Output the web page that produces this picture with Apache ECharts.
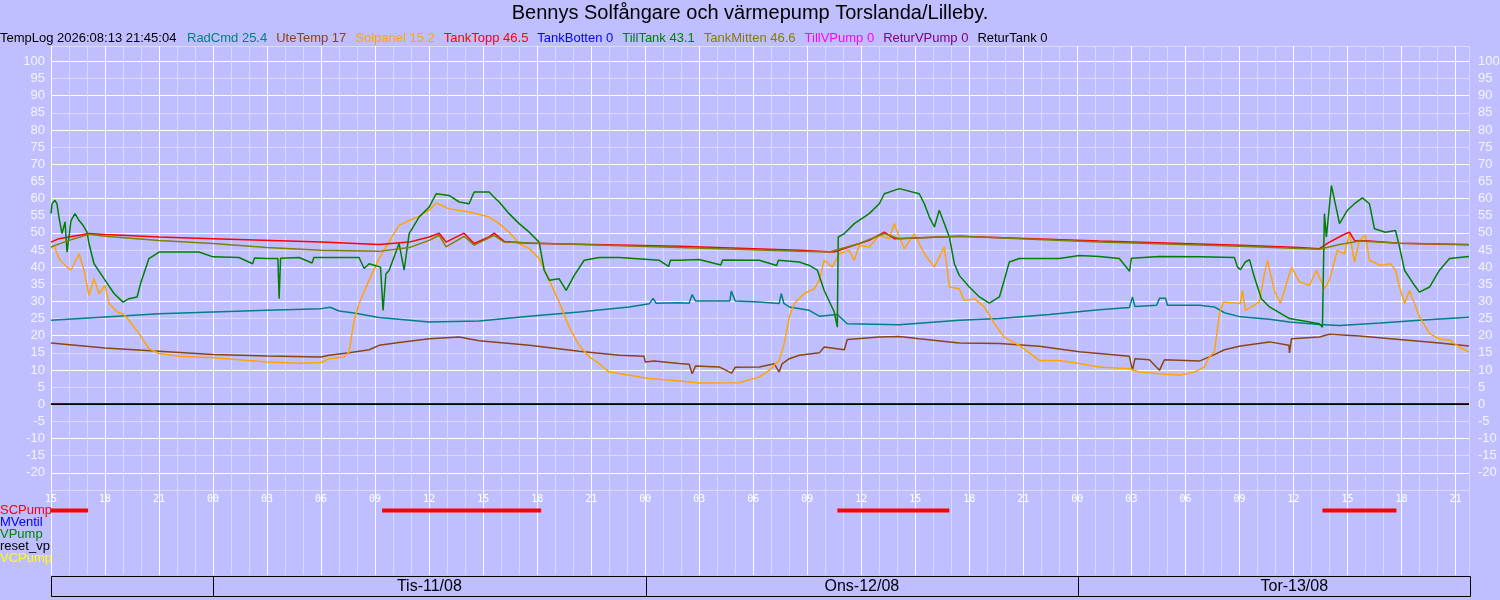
<!DOCTYPE html>
<html>
<head>
<meta charset="utf-8">
<title>TempLog</title>
<script src="https://cdn.jsdelivr.net/npm/echarts@6/dist/echarts.min.js"></script>
<style>
  html, body { margin: 0; padding: 0; background: #bfbfff; }
  #chart { width: 1500px; height: 600px; }
</style>
</head>
<body>
<div id="chart"></div>
<script>
// tider i timmar räknat från 2026-08-11 00:00
var chartTitle = 'Bennys Solfångare och värmepump Torslanda/Lilleby.';
var logStamp = 'TempLog 2026:08:13 21:45:04';
var xStart = -9, xEnd = 69.75;

var seriesNames = ['RadCmd', 'UteTemp', 'Solpanel', 'TankTopp', 'TankBotten', 'TillTank', 'TankMitten', 'TillVPump', 'ReturVPump', 'ReturTank'];
var seriesColors = ['#008080', '#8b4513', '#ffa500', '#ff0000', '#0000ff', '#008000', '#808000', '#ff00ff', '#800080', '#000000'];

var radCmd = [[-9,24.5],[-3,26.4],[0,26.9],[3,27.4],[6,27.9],[6.5,28.3],[7,27.2],[7.83,26.6],[9.22,25.3],[12,24.0],[14.78,24.3],
  [17.56,25.7],[20.33,26.9],[23.11,28.4],[24.22,29.3],[24.44,30.9],[24.6,29.5],[25.89,29.6],[26.44,29.5],[26.61,32.0],[26.8,30.1],
  [28.7,30.1],[28.78,33.0],[29.0,30.1],[30.33,29.8],[31.44,29.4],[31.56,32.3],[31.7,29.4],[32,28.4],[33.11,27.4],[33.67,25.7],
  [34.67,26.2],[35.22,23.5],[38.11,23.2],[41.44,24.5],[43.67,25.0],[46.44,26.2],[49.22,27.6],[50.89,28.2],[51.06,31.3],[51.2,28.5],
  [52.4,28.9],[52.56,30.9],[52.9,30.9],[53.0,28.9],[54.78,28.9],[55.61,28.4],[56.17,26.7],[57.06,25.5],[58.67,24.8],[59.78,24.0],
  [61.44,23.3],[62.56,23.0],[64.83,23.7],[67,24.5],[69.75,25.4]];

var uteTemp = [[-9,17.9],[-6,16.4],[-3,15.5],[0,14.5],[3,14.1],[6,13.8],[6.44,14.3],[7.56,15.0],[8.67,15.9],[9.22,17.2],[10.33,18.0],
  [12,19.1],[13.67,19.6],[14.78,18.5],[17.56,17.2],[20.33,15.5],[22.56,14.3],[23.94,14.0],[24.0,12.3],[24.5,12.6],[25.89,11.9],
  [26.44,11.7],[26.61,8.9],[26.8,11.2],[28.11,10.9],[28.8,9.1],[29.0,10.8],[30.33,10.9],[31.17,11.8],[31.44,9.4],[31.6,11.8],
  [32,13.3],[32.56,14.3],[33.67,15.0],[33.94,16.7],[35.06,15.9],[35.22,18.9],[37,19.6],[38.11,19.8],[39.22,19.1],[41.44,17.9],
  [43.67,17.7],[45.89,16.9],[48.11,15.3],[49.22,14.8],[50.89,14.0],[51.06,9.9],[51.2,13.3],[52,13.0],[52.56,9.9],[52.83,13.0],
  [54.78,12.6],[55.61,14.5],[56.17,15.9],[57.06,17.0],[58.67,18.2],[59.75,17.2],[59.78,15.0],[59.89,19.1],[61.44,19.6],[62,20.4],
  [63.67,19.9],[65.89,18.9],[68.11,17.9],[69.75,17.0]];

var solpanel = [[-9,45.5],[-8.83,46.4],[-8.56,42.5],[-8.11,40.0],[-7.89,39.1],[-7.44,43.9],[-7.17,39.1],[-6.89,31.8],[-6.61,36.6],
  [-6.33,32.3],[-6,34.7],[-5.78,29.4],[-5.33,26.9],[-5,26.4],[-4.67,24.5],[-4.11,20.6],[-3.56,16.2],[-3,14.8],[-1.89,14.0],
  [0,13.6],[1.44,13.0],[3,12.3],[4.78,12.0],[6,12.2],[6.44,13.3],[7.28,13.8],[7.56,15.3],[7.83,24.5],[8.11,29.4],[8.67,36.2],
  [9.22,42.5],[9.78,47.5],[10.33,52.2],[10.89,53.6],[11.44,54.8],[12,56.6],[12.39,58.7],[13.11,57.0],[14.22,56.1],[15.33,54.6],
  [15.89,52.7],[16.44,50.2],[17,46.9],[17.56,45.4],[18.11,42.5],[18.67,36.2],[19.22,29.8],[19.78,22.5],[20.33,17.2],[20.89,13.8],
  [21.44,11.9],[22,9.4],[23.11,8.5],[24.22,7.5],[25.89,6.8],[27,6.2],[29.22,6.3],[30.33,8.0],[30.89,9.9],[31.44,12.8],[31.72,17.7],
  [32,25.5],[32.28,29.4],[32.83,32.3],[33.39,33.7],[33.67,36.2],[33.94,42.0],[34.39,40.0],[34.78,43.9],[35.33,44.9],[35.61,42.0],
  [35.89,46.4],[36.44,45.9],[37,49.3],[37.56,48.3],[37.83,52.7],[38.11,48.8],[38.39,45.4],[38.94,49.8],[39.5,43.9],[40.06,40.0],
  [40.61,45.9],[40.89,34.2],[41.44,33.7],[41.72,30.3],[42.28,30.8],[42.83,28.4],[43.39,23.5],[43.94,19.6],[44.78,17.2],[45.89,12.8],
  [47,12.8],[48.11,11.9],[49.22,10.9],[50.89,10.4],[51.44,9.4],[52.56,8.9],[53.67,8.5],[54.5,9.4],[55.06,10.9],[55.33,13.8],
  [55.61,15.3],[55.89,26.4],[56.11,29.8],[57.06,29.4],[57.17,33.2],[57.33,27.4],[58.11,29.8],[58.39,38.1],[58.56,42.0],[58.94,33.2],
  [59.28,29.4],[59.78,38.1],[59.89,40.0],[60.33,35.7],[60.89,34.7],[61.28,39.1],[61.72,33.7],[62,36.2],[62.44,44.9],[62.83,43.9],
  [63.11,49.8],[63.39,41.5],[63.67,47.8],[64,49.3],[64.22,42.0],[64.83,40.5],[65.39,41.0],[65.67,39.1],[65.89,34.2],[66.17,29.4],
  [66.44,33.2],[66.72,29.4],[67,25.5],[67.56,20.6],[68.11,19.1],[68.67,18.7],[69.22,16.7],[69.75,15.2]];

var tankTopp = [[-9,47.3],[-8.56,48.3],[-6.89,49.8],[-6,49.5],[-3,48.8],[0,48.3],[6,47.3],[9.22,46.6],[10.89,47.3],[12,48.8],
  [12.56,49.9],[12.94,47.3],[13.94,49.9],[14.5,46.9],[15.33,48.8],[15.61,49.9],[16.17,47.5],[17.56,47.0],[25.89,46.1],[32.56,44.9],
  [34.5,44.4],[35.06,45.4],[36.44,47.8],[37.28,50.2],[37.83,48.3],[41.44,49.0],[49.22,47.6],[57.06,46.4],[60.33,45.7],[61.44,45.4],
  [62,47.3],[62.83,49.6],[63.11,50.2],[63.39,47.8],[64.22,47.6],[65.89,47.0],[69.75,46.5]];

var tankBotten = [[-9,0],[69.75,0]];

var tillTank = [[-9,55.6],[-8.94,58.5],[-8.78,59.5],[-8.67,58.5],[-8.56,54.6],[-8.39,49.8],[-8.22,53.2],[-8.11,44.4],[-7.89,53.6],
  [-7.67,55.6],[-7.44,53.6],[-7.22,52.2],[-7,50.2],[-6.89,46.9],[-6.61,41.0],[-6,36.2],[-5.5,32.3],[-5,29.8],[-4.67,30.8],
  [-4.22,31.3],[-4,35.7],[-3.78,39.1],[-3.56,42.5],[-3,44.4],[-0.78,44.4],[0,43.0],[1.44,42.8],[2.2,41.0],[2.3,42.7],[3,42.5],
  [3.6,42.5],[3.67,30.8],[3.75,42.6],[4.78,42.8],[5.5,41.2],[5.6,42.8],[8.11,42.8],[8.39,39.6],[8.67,41.0],[9.3,40.0],[9.44,27.4],
  [9.6,38.0],[9.78,39.1],[10.33,46.9],[10.61,39.1],[10.89,49.8],[11.44,54.6],[12,57.5],[12.39,61.4],[13.11,60.9],[13.67,59.0],
  [14.22,58.5],[14.5,61.9],[15.33,61.9],[15.61,60.4],[15.89,59.0],[16.44,55.6],[17,52.7],[17.56,50.2],[18.11,47.3],[18.39,39.1],
  [18.67,36.2],[19.22,36.6],[19.61,33.2],[20.06,37.6],[20.61,42.0],[21.44,42.8],[22.56,42.8],[24.78,42.0],[25.3,40.2],[25.4,42.0],
  [25.89,42.0],[27,42.2],[28.2,40.6],[28.3,42.1],[30.33,42.0],[31.3,40.5],[31.4,42.0],[32.56,41.5],[33.11,40.5],[33.56,39.1],
  [33.94,33.2],[34.5,26.9],[34.67,22.5],[34.72,48.8],[35.06,49.8],[35.61,52.7],[36.44,55.6],[37,58.5],[37.28,61.4],[38.11,62.9],
  [39.22,61.4],[39.5,58.5],[39.78,54.6],[40.06,51.7],[40.33,56.6],[40.61,52.7],[40.89,48.8],[41.17,41.0],[41.44,37.6],[42,34.2],
  [42.56,31.3],[43.11,29.5],[43.67,31.3],[43.94,36.2],[44.22,41.5],[44.78,42.5],[47,42.5],[48.11,43.4],[49.22,43.1],[50.33,42.5],
  [50.9,38.8],[51.0,42.6],[52.56,43.1],[54.78,43.0],[56.72,42.8],[56.89,40.0],[57.06,39.3],[57.33,41.5],[57.56,42.2],[57.83,37.1],
  [58.22,30.8],[58.67,28.4],[59.78,25.0],[61.44,23.5],[61.61,22.5],[61.72,55.6],[61.83,48.8],[62.11,63.8],[62.56,52.7],[63,56.6],
  [63.39,58.5],[63.83,60.2],[64.22,58.5],[64.5,51.2],[65.11,50.2],[65.67,50.7],[65.89,45.9],[66.17,39.1],[66.72,34.7],[67,32.7],
  [67.56,34.2],[68.11,39.1],[68.67,42.5],[69.75,43.1]];

var tankMitten = [[-9,45.9],[-8,47.8],[-6.89,49.6],[-6,49.0],[-3,47.8],[0,46.9],[3,45.7],[6,44.9],[9.22,44.6],[10.89,45.7],[12,47.8],
  [12.56,49.3],[12.94,45.9],[13.94,49.0],[14.5,46.4],[15.61,49.3],[16.17,47.3],[18.11,47.0],[25.89,45.7],[32.56,44.6],[34.22,44.4],
  [35.89,46.9],[37.28,49.8],[38.11,48.3],[41.44,49.0],[49.22,47.3],[57.06,46.1],[61.44,45.2],[62.56,46.6],[63.67,47.6],[65.89,47.0],
  [69.75,46.6]];

var tillVPump = [[-9,0],[69.75,0]];
var returVPump = [[-9,0],[69.75,0]];
var returTank = [[-9,0],[69.75,0]];

var seriesData = [radCmd, uteTemp, solpanel, tankTopp, tankBotten, tillTank, tankMitten, tillVPump, returVPump, returTank];

var statusNames = ['SCPump', 'MVentil', 'VPump', 'reset_vp', 'VCPump'];
var statusColors = ['#ff0000', '#0000ff', '#008000', '#000000', '#ffff00'];
var scPumpOn = [[-9, -6.94], [9.39, 18.22], [34.67, 40.89], [61.61, 65.72]];

var dayNames = ['Mån-10/08', 'Tis-11/08', 'Ons-12/08', 'Tor-13/08'];
var dayStarts = [-24, 0, 24, 48];

var font = "'Liberation Sans', Arial, sans-serif";
var majorLine = '#ffffff';
var minorLine = '#dadaff';

var lastValue = {};
seriesNames.forEach(function (n, i) {
  var d = seriesData[i];
  lastValue[n] = d[d.length - 1][1];
});

function pad(h) {
  var v = ((h % 24) + 24) % 24;
  return (v < 10 ? '0' : '') + v;
}

var myChart = echarts.init(document.getElementById('chart'));

var timeAxisBase = {
  type: 'value', min: xStart, max: xEnd, interval: 1,
  axisLine: { show: false }, axisTick: { show: false },
  splitLine: { show: true, lineStyle: { color: [majorLine, minorLine, minorLine], width: 1 } }
};

var dayBoxes = [];
dayStarts.forEach(function (s, i) {
  var a = Math.max(s, xStart), b = Math.min(s + 24, xEnd);
  if (a < b) dayBoxes.push([a, b, s + 12, i]);
});

var option = {
  backgroundColor: '#bfbfff',
  animation: false,
  title: [
    { text: chartTitle, left: 'center', top: 3, padding: 0,
      textStyle: { fontSize: 20, fontWeight: 'normal', color: '#000', fontFamily: font } },
    { text: logStamp, left: 0, top: 32, padding: 0,
      textStyle: { fontSize: 13, fontWeight: 'normal', color: '#000', fontFamily: font } }
  ],
  legend: {
    left: 182, top: 32, padding: 0, itemGap: 4, itemWidth: 0, itemHeight: 0, icon: 'rect',
    selectedMode: false,
    data: seriesNames.map(function (n, i) {
      return { name: n, textStyle: { color: seriesColors[i] } };
    }),
    formatter: function (name) { return name + ' ' + lastValue[name]; },
    textStyle: { fontSize: 13, fontFamily: font }
  },
  grid: [
    { left: 51, right: 31, top: 46, height: 444, containLabel: false, outerBoundsMode: 'none' },
    { left: 51, right: 31, top: 490, height: 85, containLabel: false, outerBoundsMode: 'none' },
    { left: 51, right: 31, top: 504.5, height: 60, containLabel: false, outerBoundsMode: 'none' },
    { left: 51, right: 30, top: 576, height: 20, containLabel: false, outerBoundsMode: 'none' }
  ],
  xAxis: [
    Object.assign({}, timeAxisBase, {
      gridIndex: 0,
      axisLabel: {
        interval: 0, margin: 4, color: '#ffffff', fontSize: 10, fontFamily: "'DejaVu Sans Mono', monospace",
        formatter: function (v) { return (Math.abs(v % 3) < 1e-6) ? pad(v) : ''; }
      }
    }),
    Object.assign({}, timeAxisBase, { gridIndex: 1, axisLabel: { show: false } }),
    { type: 'value', gridIndex: 2, min: xStart, max: xEnd, show: false },
    { type: 'value', gridIndex: 3, min: xStart, max: xEnd, show: false }
  ],
  yAxis: [
    { type: 'value', gridIndex: 0, min: -25, max: 104.5, interval: 5, position: 'left',
      axisLine: { show: false }, axisTick: { show: false },
      axisLabel: { margin: 6, color: '#f4f4ff', fontSize: 13, fontFamily: font,
        formatter: function (v) { return (v > 100 || v < -20) ? '' : v; } },
      splitLine: { show: true, lineStyle: { color: [minorLine, majorLine], width: 1 } } },
    { type: 'value', gridIndex: 0, min: -25, max: 104.5, interval: 5, position: 'right',
      axisLine: { show: false }, axisTick: { show: false }, splitLine: { show: false },
      axisLabel: { margin: 9, color: '#f4f4ff', fontSize: 13, fontFamily: font,
        formatter: function (v) { return (v > 100 || v < -20) ? '' : v; } } },
    { type: 'value', gridIndex: 1, min: 0, max: 1, show: false },
    { type: 'category', gridIndex: 2, data: statusNames, inverse: true,
      axisLine: { show: false }, axisTick: { show: false }, splitLine: { show: false },
      axisLabel: { interval: 0, margin: 51, align: 'left', fontSize: 13, fontFamily: font,
        color: function (v, i) { return statusColors[statusNames.indexOf(v)]; } } },
    { type: 'value', gridIndex: 3, min: 0, max: 1, show: false }
  ],
  series: seriesNames.map(function (n, i) {
    return {
      name: n, type: 'line', xAxisIndex: 0, yAxisIndex: 0,
      data: seriesData[i], showSymbol: false, symbol: 'none', silent: true,
      itemStyle: { color: seriesColors[i] },
      lineStyle: { color: seriesColors[i], width: 1.5 }
    };
  }).concat([
    {
      name: 'SCPumpOn', type: 'custom', xAxisIndex: 2, yAxisIndex: 3, silent: true,
      encode: { x: [0, 1], y: 2 },
      data: scPumpOn.map(function (s) { return [s[0], s[1], 0]; }),
      renderItem: function (params, api) {
        var a = api.coord([api.value(0), api.value(2)]);
        var b = api.coord([api.value(1), api.value(2)]);
        return { type: 'rect', shape: { x: a[0], y: a[1] - 2, width: b[0] - a[0], height: 4 },
          style: { fill: '#ff0000' } };
      }
    },
    {
      name: 'Dagar', type: 'custom', xAxisIndex: 3, yAxisIndex: 4, silent: true,
      encode: { x: [0, 1] },
      data: dayBoxes,
      renderItem: function (params, api) {
        var a = api.coord([api.value(0), 1]);
        var b = api.coord([api.value(1), 0]);
        var noon = api.value(2);
        var x0 = Math.round(a[0]) + 0.5, x1 = Math.round(b[0]) + 0.5;
        var y0 = Math.round(a[1]) + 0.5, y1 = Math.round(b[1]) + 0.5;
        var children = [{
          type: 'rect',
          shape: { x: x0, y: y0, width: x1 - x0, height: y1 - y0 },
          style: { fill: 'none', stroke: '#000', lineWidth: 1 }
        }];
        if (noon >= xStart && noon <= xEnd) {
          var c = api.coord([noon, 0.5]);
          children.push({ type: 'text',
            style: { text: dayNames[api.value(3)], x: c[0], y: c[1] + 1, align: 'center', verticalAlign: 'middle',
              fontSize: 16, fontFamily: font, fill: '#000' } });
        }
        return { type: 'group', children: children };
      }
    }
  ])
};

myChart.setOption(option);
</script>
</body>
</html>
